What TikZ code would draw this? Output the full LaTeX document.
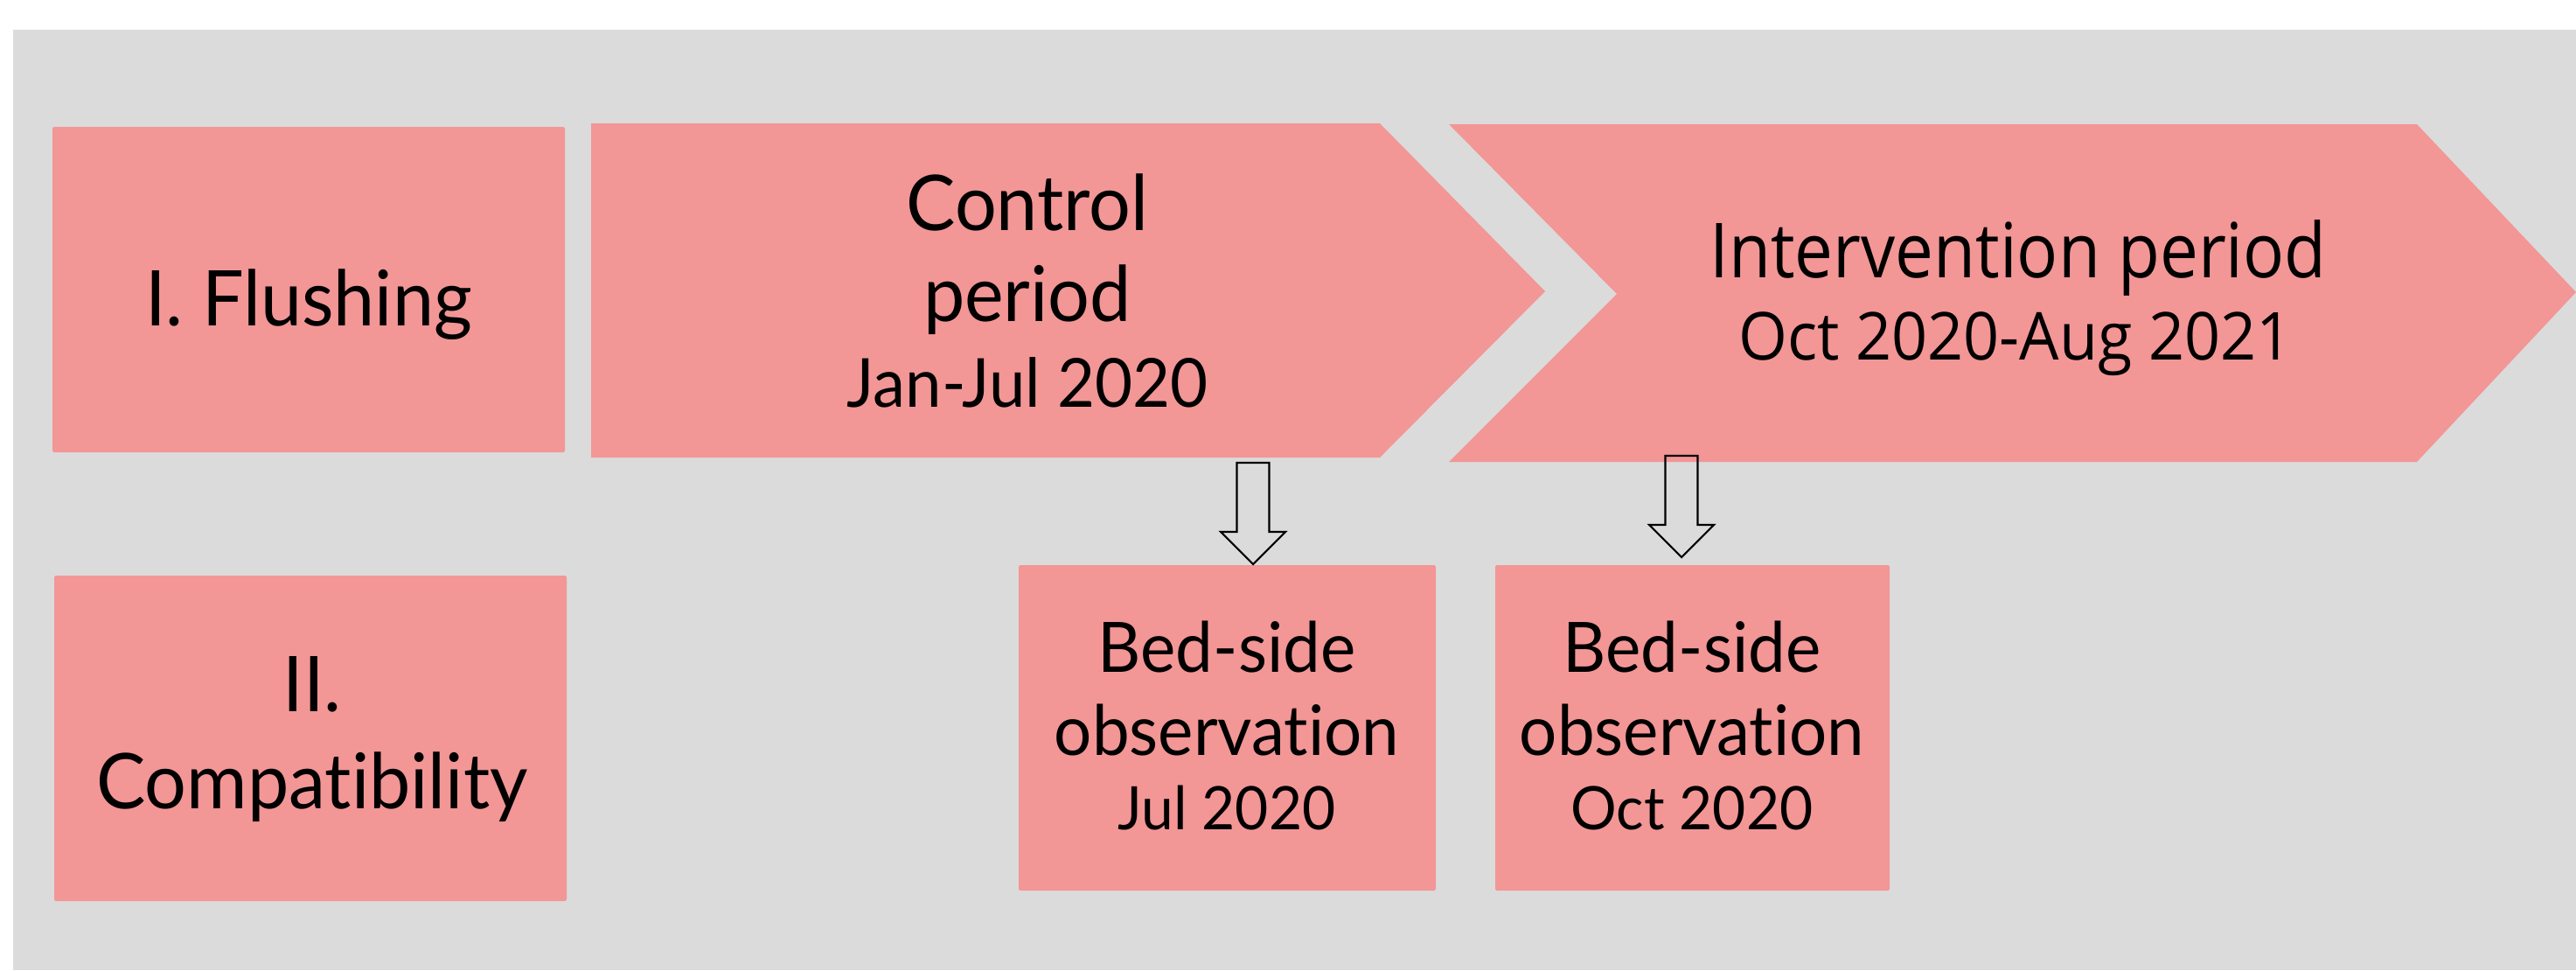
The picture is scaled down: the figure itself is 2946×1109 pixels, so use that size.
\documentclass[tikz,border=0pt]{standalone}
\usepackage{fontspec}
\setmainfont{Lato}[FakeStretch=0.96,Ligatures=NoCommon]
\newfontfamily\intfamily{Open Sans}[FakeStretch=0.9]
\newfontfamily\intdfamily{Open Sans}[FakeStretch=0.95]
\usetikzlibrary{fit}
\definecolor{bggray}{RGB}{219,219,219}
\definecolor{pinkbox}{RGB}{243,150,150}
\newcommand\fbig{\fontsize{25pt}{29pt}\selectfont}
\newcommand\fbed{\fontsize{22.6pt}{27pt}\selectfont}
\newcommand\fdateA{\fontsize{22pt}{27pt}\selectfont}
\newcommand\fdateB{\fontsize{19.5pt}{23pt}\selectfont}
\newcommand\fint{\intfamily\fontsize{24.7pt}{29pt}\selectfont}
\newcommand\fintd{\intdfamily\fontsize{21.5pt}{25pt}\selectfont}
\begin{document}
\begin{tikzpicture}[x=0.01cm,y=-0.01cm,
  box/.style={fill=pinkbox, draw=none, rounded corners=0.6pt, inner sep=0pt},
  txt/.style={anchor=base, inner sep=0pt, text=black},
  downarr/.pic={\draw[line width=0.6pt, line join=miter]
     (-18.5,-116) -- (18.5,-116) -- (18.5,-37) -- (37,-37) -- (0,0)
     -- (-37,-37) -- (-18.5,-37) -- cycle;}]
\useasboundingbox (0,0) rectangle (2946,1109);
\fill[bggray] (15,34) rectangle (2946,1109);

% boxes
\node[box, fit={(60,145) (646,517)}] (flush) {};
\node[box, fit={(62,658) (648,1030)}] (compat) {};
\node[box, fit={(1165,646) (1642,1018)}] (bed1) {};
\node[box, fit={(1710,646) (2161,1018)}] (bed2) {};

% chevrons
\fill[pinkbox] (676,141) -- (1578,141) -- (1767,333) -- (1578,523) -- (676,523) -- cycle;
\fill[pinkbox] (1657,142) -- (2764,142) -- (2946,334) -- (2764,528) -- (1657,528) -- (1849,336) -- cycle;

% block arrows
\pic at (1433,645) {downarr};
\pic at (1923,637) {downarr};

% texts
\node[txt, font=\fbig] (tflush) at (353,372) {I. Flushing};
\node[txt, font=\fbig] (tcomp1) at (357,813) {II.};
\node[txt, font=\fbig] (tcomp2) at (357,924) {Compatibility};
\node[txt, font=\fbig] (tctrl1) at (1175,263) {Control};
\node[txt, font=\fbig] (tctrl2) at (1175,367) {period};
\node[txt, font=\fdateA] (tctrl3) at (1175,465) {Jan-Jul 2020};
\node[txt, font=\fint] (tint1) at (2308,317) {Intervention period};
\node[txt, font=\fintd] (tint2) at (2305,411) {Oct 2020-Aug 2021};
\node[txt, font=\fbed] (tb11) at (1403,768) {Bed-side};
\node[txt, font=\fbed] (tb12) at (1403,863) {observation};
\node[txt, font=\fdateB] (tb13) at (1403,948) {Jul 2020};
\node[txt, font=\fbed] (tb21) at (1935,768) {Bed-side};
\node[txt, font=\fbed] (tb22) at (1935,863) {observation};
\node[txt, font=\fdateB] (tb23) at (1935,948) {Oct 2020};
\end{tikzpicture}
\end{document}
